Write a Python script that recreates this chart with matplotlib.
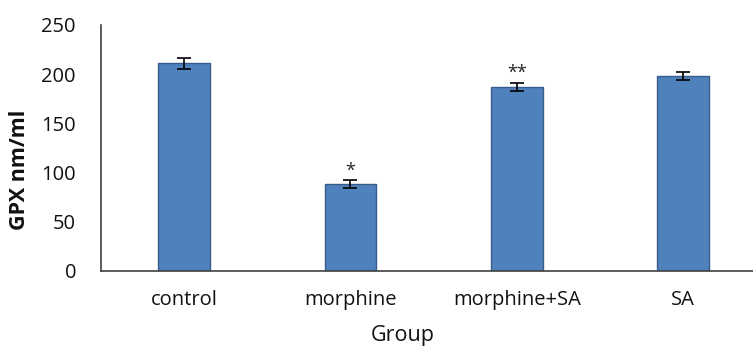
import matplotlib
matplotlib.use("Agg")
import matplotlib.pyplot as plt

groups = ["control", "morphine", "morphine+SA", "SA"]
gpx = [211, 88, 187, 198]
gpx_err = [5.5, 4, 4, 4]
marks = ["", "*", "**", ""]
y_ticks = [0, 50, 100, 150, 200, 250]

plt.rcParams["font.family"] = ["Open Sans", "DejaVu Sans"]

fig = plt.figure(figsize=(7.53, 3.49), dpi=100)
ax = fig.add_axes([101 / 753, 78 / 349, 1 - 101 / 753, 246 / 349])

x = list(range(len(groups)))
ax.bar(x, gpx, width=0.31, color="#4F81BD", edgecolor="#385D8A", linewidth=1.0,
       yerr=gpx_err, error_kw=dict(ecolor="black", elinewidth=1.2, capsize=5, capthick=1.2))

for xi, v, e, m in zip(x, gpx, gpx_err, marks):
    if m:
        ax.text(xi, v + e + 1, m, ha="center", va="bottom", fontsize=13, color="#222222")

ax.set_xlim(-0.5, 3.42)
ax.set_ylim(0, 250)
ax.set_yticks(y_ticks)
ax.set_xticks(x)
ax.set_xticklabels(groups)
ax.tick_params(axis="both", length=0, labelsize=14.5, colors="#111111")
ax.tick_params(axis="y", pad=18)
ax.tick_params(axis="x", pad=14)

for s in ["top", "right"]:
    ax.spines[s].set_visible(False)
for s in ["left", "bottom"]:
    ax.spines[s].set_color("#404040")
    ax.spines[s].set_linewidth(1.2)

fig.text(20 / 753, 1 - 170 / 349, "GPX nm/ml", rotation=90, ha="center", va="center",
         fontsize=15.5, fontweight="bold", color="#111111")
fig.text(403 / 753, 1 - 335 / 349, "Group", ha="center", va="center",
         fontsize=15.5, color="#111111")

fig.savefig("out.png", dpi=100)
